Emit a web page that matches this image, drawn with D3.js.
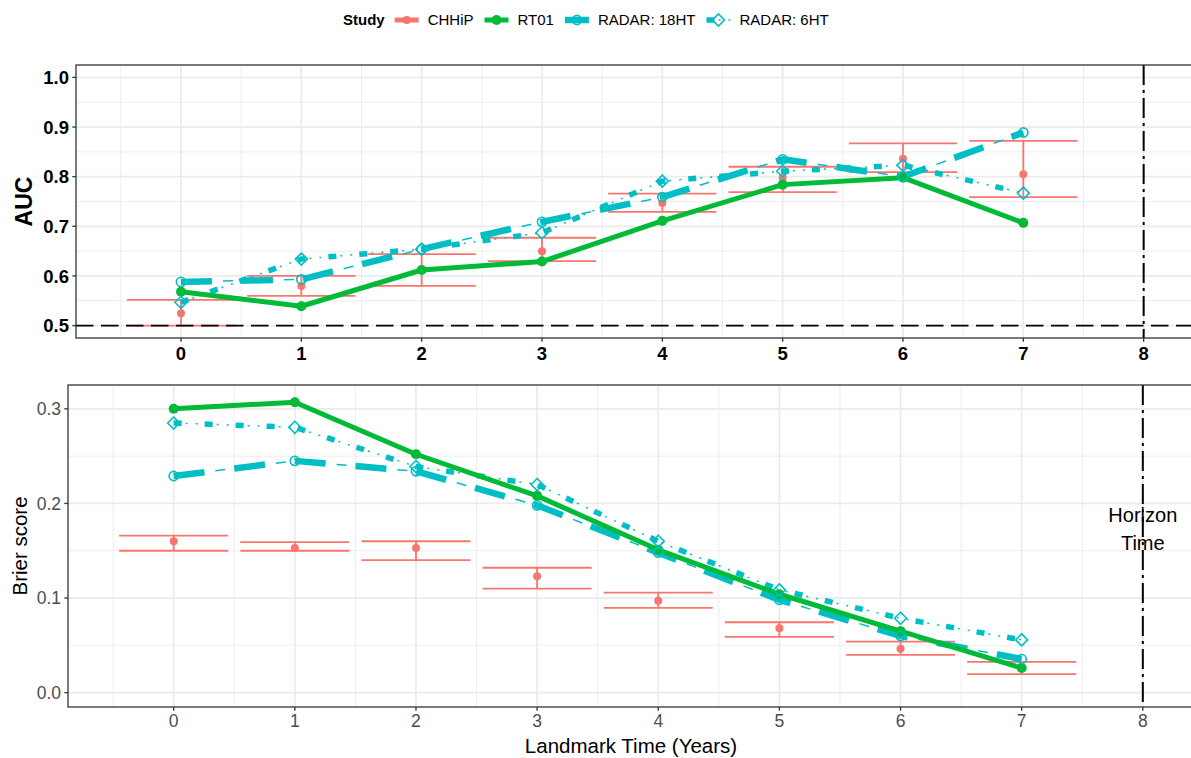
<!DOCTYPE html>
<html><head><meta charset="utf-8">
<script src="https://cdn.jsdelivr.net/npm/d3@7"></script>
<style>body{margin:0;background:#fff}</style>
</head><body>
<svg id="c" width="1191" height="758"></svg>
<script>
// ---------- data ----------
const times = [0, 1, 2, 3, 4, 5, 6, 7];
const studies = ["CHHiP", "RT01", "RADAR: 18HT", "RADAR: 6HT"];
const horizonTime = 8;
const aucReference = 0.5;

const aucCHHiP   = [0.525, 0.580, 0.612, 0.650, 0.747, 0.798, 0.836, 0.805];
const aucCHHiPLo = [0.500, 0.560, 0.580, 0.630, 0.729, 0.769, 0.809, 0.759];
const aucCHHiPHi = [0.552, 0.600, 0.644, 0.677, 0.766, 0.820, 0.867, 0.872];
const aucRT01    = [0.568, 0.539, 0.612, 0.629, 0.711, 0.784, 0.798, 0.707];
const aucRADAR18 = [0.588, 0.593, 0.654, 0.709, 0.759, 0.835, 0.800, 0.889];
const aucRADAR6  = [0.547, 0.634, 0.654, 0.687, 0.791, 0.811, 0.823, 0.767];

const brierCHHiP   = [0.160, 0.153, 0.153, 0.123, 0.097, 0.068, 0.0465, 0.026];
const brierCHHiPLo = [0.150, 0.150, 0.140, 0.110, 0.0895, 0.059, 0.040, 0.0195];
const brierCHHiPHi = [0.166, 0.159, 0.160, 0.132, 0.1057, 0.0744, 0.054, 0.0325];
const brierRT01    = [0.300, 0.307, 0.252, 0.208, 0.151, 0.104, 0.065, 0.026];
const brierRADAR18 = [0.229, 0.245, 0.234, 0.198, 0.148, 0.098, 0.060, 0.0355];
const brierRADAR6  = [0.285, 0.2805, 0.239, 0.220, 0.160, 0.1086, 0.0786, 0.0557];

const xTicks = [0, 1, 2, 3, 4, 5, 6, 7, 8];
const xMinor = [-0.5, 0.5, 1.5, 2.5, 3.5, 4.5, 5.5, 6.5, 7.5];
const aucTicks = [0.5, 0.6, 0.7, 0.8, 0.9, 1.0];
const aucMinor = [0.55, 0.65, 0.75, 0.85, 0.95];
const brierTicks = [0.0, 0.1, 0.2, 0.3];
const brierMinor = [0.05, 0.15, 0.25];

// ---------- styles ----------
const FONT = "'Liberation Sans', Arial, Helvetica, sans-serif";
const col = {"CHHiP": "#F8766D", "RT01": "#00BA38", "RADAR: 18HT": "#00BFC4", "RADAR: 6HT": "#00BFC4"};
const lineStyle = {
  "RADAR: 18HT": [{w: 6.5, dash: "31,30", off: 0}, {w: 1.5, dash: "10,51", off: 19}],
  "RADAR: 6HT":  [{w: 5.5, dash: "8,23", off: 0}, {w: 1.5, dash: "2,8,2,19", off: 19}],
  "RT01": [{w: 5, dash: null, off: 0}]
};

const svg = d3.select("#c");
svg.append("rect").attr("width", 1191).attr("height", 758).attr("fill", "#fff");
const defs = svg.append("defs");

function marker(g, study, cx, cy) {
  const c = col[study];
  if (study === "CHHiP") g.append("circle").attr("cx", cx).attr("cy", cy).attr("r", 4).attr("fill", c);
  else if (study === "RT01") g.append("circle").attr("cx", cx).attr("cy", cy).attr("r", 5).attr("fill", c);
  else if (study === "RADAR: 18HT") g.append("circle").attr("cx", cx).attr("cy", cy).attr("r", 4.6)
      .attr("fill", "none").attr("stroke", c).attr("stroke-width", 1.6);
  else {
    const s = 6;
    g.append("path").attr("d", `M${cx},${cy - s}L${cx + s},${cy}L${cx},${cy + s}L${cx - s},${cy}Z`)
      .attr("fill", "none").attr("stroke", c).attr("stroke-width", 1.6);
  }
}

function drawLine(g, study, pts) {
  const gen = d3.line().x(d => d[0]).y(d => d[1]);
  (lineStyle[study] || []).forEach(st => {
    const p = g.append("path").attr("d", gen(pts)).attr("fill", "none")
      .attr("stroke", col[study]).attr("stroke-width", st.w).attr("stroke-linejoin", "round");
    if (st.dash) p.attr("stroke-dasharray", st.dash).attr("stroke-dashoffset", st.off);
  });
}

function panel(o) {
  const g = svg.append("g");
  const x = o.x, y = o.y;
  const [L, R] = x.range(), [B, T] = y.range();
  const id = "clip" + o.name;
  defs.append("clipPath").attr("id", id).append("rect").attr("x", L).attr("y", T).attr("width", R - L).attr("height", B - T);
  const pg = g.append("g").attr("clip-path", `url(#${id})`);
  // grid
  o.yMinor.forEach(v => pg.append("line").attr("x1", L).attr("x2", R).attr("y1", y(v)).attr("y2", y(v)).attr("stroke", "#EBEBEB").attr("stroke-width", 0.9));
  xMinor.forEach(v => pg.append("line").attr("x1", x(v)).attr("x2", x(v)).attr("y1", T).attr("y2", B).attr("stroke", "#EBEBEB").attr("stroke-width", 0.9));
  o.yTicks.forEach(v => pg.append("line").attr("x1", L).attr("x2", R).attr("y1", y(v)).attr("y2", y(v)).attr("stroke", "#EBEBEB").attr("stroke-width", 1.7));
  xTicks.forEach(v => pg.append("line").attr("x1", x(v)).attr("x2", x(v)).attr("y1", T).attr("y2", B).attr("stroke", "#EBEBEB").attr("stroke-width", 1.7));
  // error bars CHHiP
  const eb = 0.45;
  times.forEach((t, i) => {
    const c = col["CHHiP"];
    pg.append("line").attr("x1", x(t - eb)).attr("x2", x(t + eb)).attr("y1", y(o.lo[i])).attr("y2", y(o.lo[i])).attr("stroke", c).attr("stroke-width", 1.8);
    pg.append("line").attr("x1", x(t - eb)).attr("x2", x(t + eb)).attr("y1", y(o.hi[i])).attr("y2", y(o.hi[i])).attr("stroke", c).attr("stroke-width", 1.8);
    pg.append("line").attr("x1", x(t)).attr("x2", x(t)).attr("y1", y(o.lo[i])).attr("y2", y(o.hi[i])).attr("stroke", c).attr("stroke-width", 1.8);
  });
  // reference lines
  if (o.refY !== undefined) pg.append("line").attr("x1", L).attr("x2", R).attr("y1", y(o.refY)).attr("y2", y(o.refY))
      .attr("stroke", "#000").attr("stroke-width", 1.8).attr("stroke-dasharray", "17.5,7.5");
  pg.append("line").attr("x1", x(horizonTime)).attr("x2", x(horizonTime)).attr("y1", T).attr("y2", B)
    .attr("stroke", "#000").attr("stroke-width", 2).attr("stroke-dasharray", "20,5,3,5");
  // lines
  drawLine(pg, "RADAR: 18HT", times.map((t, i) => [x(t), y(o.r18[i])]));
  drawLine(pg, "RADAR: 6HT", times.map((t, i) => [x(t), y(o.r6[i])]));
  drawLine(pg, "RT01", times.map((t, i) => [x(t), y(o.rt[i])]));
  // points
  times.forEach((t, i) => marker(pg, "CHHiP", x(t), y(o.ch[i])));
  times.forEach((t, i) => marker(pg, "RT01", x(t), y(o.rt[i])));
  times.forEach((t, i) => marker(pg, "RADAR: 18HT", x(t), y(o.r18[i])));
  times.forEach((t, i) => marker(pg, "RADAR: 6HT", x(t), y(o.r6[i])));
  // border
  g.append("rect").attr("x", L).attr("y", T).attr("width", R - L).attr("height", B - T)
    .attr("fill", "none").attr("stroke", "#333333").attr("stroke-width", 1.3);
  // axes ticks
  o.yTicks.forEach(v => {
    g.append("line").attr("x1", L - 3.7).attr("x2", L).attr("y1", y(v)).attr("y2", y(v)).attr("stroke", "#333333").attr("stroke-width", 1.3);
    g.append("text").attr("x", L - 7).attr("y", y(v)).attr("dy", "0.36em").attr("text-anchor", "end")
      .attr("font-family", FONT).attr("font-size", o.tickSize).attr("font-weight", o.tickWeight).attr("fill", o.tickColor)
      .text(d3.format(".1f")(v));
  });
  xTicks.forEach(v => {
    g.append("line").attr("x1", x(v)).attr("x2", x(v)).attr("y1", B).attr("y2", B + 3.7).attr("stroke", "#333333").attr("stroke-width", 1.3);
    g.append("text").attr("x", x(v)).attr("y", o.xLabelY).attr("text-anchor", "middle")
      .attr("font-family", FONT).attr("font-size", o.tickSize).attr("font-weight", o.tickWeight).attr("fill", o.tickColor)
      .text(String(v));
  });
  // y title
  g.append("text").attr("transform", `translate(${o.yTitleX},${(T + B) / 2}) rotate(-90)`).attr("text-anchor", "middle")
    .attr("font-family", FONT).attr("font-size", o.yTitleSize).attr("font-weight", o.yTitleWeight).attr("fill", "#000")
    .text(o.yTitle);
  return {g, x, y};
}

const xDom = [-0.8725, 8.4225];
const topPanel = panel({
  name: "top",
  x: d3.scaleLinear().domain(xDom).range([76, 1194.5]),
  y: d3.scaleLinear().domain([0.475, 1.025]).range([338, 65]),
  yTicks: aucTicks, yMinor: aucMinor, refY: aucReference,
  lo: aucCHHiPLo, hi: aucCHHiPHi, ch: aucCHHiP, rt: aucRT01, r18: aucRADAR18, r6: aucRADAR6,
  tickSize: 18.5, tickWeight: "bold", tickColor: "#000", xLabelY: 359.5,
  yTitle: "AUC", yTitleX: 32, yTitleSize: 23, yTitleWeight: "bold"
});
const botPanel = panel({
  name: "bot",
  x: d3.scaleLinear().domain(xDom).range([68, 1194]),
  y: d3.scaleLinear().domain([-0.0152, 0.3252]).range([707, 385]),
  yTicks: brierTicks, yMinor: brierMinor,
  lo: brierCHHiPLo, hi: brierCHHiPHi, ch: brierCHHiP, rt: brierRT01, r18: brierRADAR18, r6: brierRADAR6,
  tickSize: 17.5, tickWeight: "normal", tickColor: "#4D4D4D", xLabelY: 727,
  yTitle: "Brier score", yTitleX: 27, yTitleSize: 20.5, yTitleWeight: "normal"
});

// horizon label
const hx = botPanel.x(horizonTime);
const ht = svg.append("text").attr("text-anchor", "middle").attr("font-family", FONT).attr("font-size", 20).attr("fill", "#000");
ht.append("tspan").attr("x", hx).attr("y", 522).text("Horizon");
ht.append("tspan").attr("x", hx).attr("y", 550).text("Time");

// x title
svg.append("text").attr("x", (68 + 1194) / 2).attr("y", 753).attr("text-anchor", "middle")
  .attr("font-family", FONT).attr("font-size", 20.5).attr("fill", "#000").text("Landmark Time (Years)");

// legend
const lg = svg.append("g");
const ly = 20;
const lfs = 15;
let lx = 343;
const title = lg.append("text").attr("x", lx).attr("y", ly).attr("dy", "0.36em").attr("font-family", FONT)
  .attr("font-size", lfs).attr("font-weight", "bold").attr("fill", "#000").text("Study");
lx += title.node().getComputedTextLength() + 10;
studies.forEach(s => {
  const kg = lg.append("g");
  const pts = [[lx, ly], [lx + 24, ly]];
  if (s === "CHHiP") {
    kg.append("line").attr("x1", lx).attr("x2", lx + 24).attr("y1", ly).attr("y2", ly).attr("stroke", col[s]).attr("stroke-width", 5);
  } else {
    drawLine(kg, s, pts);
  }
  marker(kg, s, lx + 12, ly);
  lx += 24 + 9;
  const t = lg.append("text").attr("x", lx).attr("y", ly).attr("dy", "0.36em").attr("font-family", FONT)
    .attr("font-size", lfs).attr("fill", "#000").text(s);
  lx += t.node().getComputedTextLength() + 11;
});
</script>
</body></html>
